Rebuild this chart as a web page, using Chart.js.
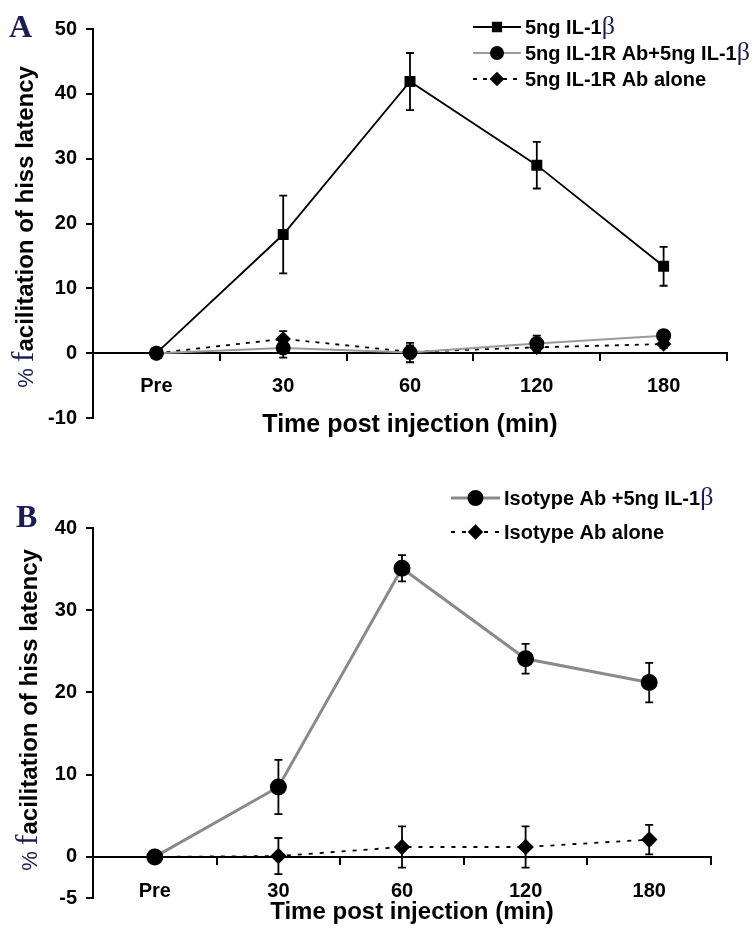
<!DOCTYPE html>
<html>
<head>
<meta charset="utf-8">
<script src="https://cdn.jsdelivr.net/npm/chart.js@4.4.0/dist/chart.umd.min.js"></script>
<style>
  html, body { margin: 0; padding: 0; background: #fff; }
  #chartA { position: absolute; left: 0; top: 0; }
  #chartB { position: absolute; left: 0; top: 466px; }
</style>
</head>
<body>
<canvas id="chartA" width="756" height="450"></canvas>
<canvas id="chartB" width="756" height="467"></canvas>
<script>
// ── Data ────────────────────────────────────────────────────────────────
const timeLabels = ['Pre', '30', '60', '120', '180'];

// Panel A
const il1b        = [0, 18.3, 41.9, 29.0, 13.4];
const il1bErr     = [0, 6.0, 4.4, 3.6, 3.0];
const abIl1b      = [0, 0.8, 0.1, 1.5, 2.7];
const abIl1bErr   = [0, 1.5, 1.5, 1.2, 0.8];
const abAlone     = [0, 2.2, 0.2, 0.9, 1.4];
const abAloneErr  = [0, 1.2, 1.0, 0.9, 0.6];
const ticksA      = [-10, 0, 10, 20, 30, 40, 50];

// Panel B
const isoIl1b     = [0, 8.5, 35.1, 24.1, 21.2];
const isoIl1bErr  = [0, 3.3, 1.6, 1.8, 2.4];
const isoAlone    = [0, 0.1, 1.2, 1.2, 2.1];
const isoAloneErr = [0, 2.2, 2.5, 2.5, 1.8];
const ticksB      = [-5, 0, 10, 20, 30, 40];

const SANS  = '"Liberation Sans", Arial, sans-serif';
const SERIF = '"Liberation Serif", "Times New Roman", serif';
const NAVY  = '#1c1c55';
const GREY_A = '#9a9a9a';
const GREY_B = '#8a8a8a';

// error bars drawn from each dataset's `errors` array
const errorBars = {
  id: 'errorBars',
  beforeDatasetsDraw(chart) {
    const { ctx, scales: { x, y } } = chart;
    ctx.save();
    ctx.strokeStyle = '#000';
    ctx.lineWidth = 1.8;
    chart.data.datasets.forEach(ds => {
      if (!ds.errors) return;
      ds.data.forEach((v, j) => {
        const e = ds.errors[j];
        if (!e) return;
        const px = x.getPixelForValue(j);
        const top = y.getPixelForValue(v + e);
        const bot = y.getPixelForValue(v - e);
        ctx.beginPath();
        ctx.moveTo(px, top); ctx.lineTo(px, bot);
        ctx.moveTo(px - 4, top); ctx.lineTo(px + 4, top);
        ctx.moveTo(px - 4, bot); ctx.lineTo(px + 4, bot);
        ctx.stroke();
      });
    });
    ctx.restore();
  }
};

function drawRich(ctx, parts, x, y) {
  let cx = x;
  parts.forEach(p => {
    ctx.font = p.font;
    ctx.fillStyle = p.color;
    ctx.fillText(p.t, cx, y);
    cx += ctx.measureText(p.t).width;
  });
  return cx - x;
}
function richWidth(ctx, parts) {
  return parts.reduce((w, p) => { ctx.font = p.font; return w + ctx.measureText(p.t).width; }, 0);
}

const bold  = s => `bold ${s}px ${SANS}`;
const beta  = { t: 'β', font: `26px ${SERIF}`, color: NAVY };

const yTitleParts = [
  { t: '% ', font: `22px ${SANS}`, color: NAVY },
  { t: 'f', font: `32px ${SERIF}`, color: NAVY },
  { t: 'acilitation of hiss latency', font: bold(24), color: '#000' },
];

// panel letter, axis titles and legend
const decor = {
  id: 'decor',
  afterDraw(chart, args, o) {
    const ctx = chart.ctx;
    ctx.save();
    ctx.textBaseline = 'alphabetic';
    ctx.textAlign = 'left';

    ctx.font = `bold 32px ${SERIF}`;
    ctx.fillStyle = NAVY;
    ctx.fillText(o.letter, o.letterX, o.letterY);

    ctx.font = bold(o.xTitleSize);
    ctx.fillStyle = '#000';
    ctx.textAlign = 'center';
    ctx.textBaseline = 'middle';
    ctx.fillText('Time post injection (min)', o.xTitleX, o.xTitleY);

    // rotated y title
    ctx.textAlign = 'left';
    ctx.textBaseline = 'alphabetic';
    ctx.save();
    ctx.translate(o.yTitleX, o.yTitleY);
    ctx.rotate(-Math.PI / 2);
    const w = richWidth(ctx, yTitleParts);
    drawRich(ctx, yTitleParts, -w / 2, 0);
    ctx.restore();

    // legend
    o.legend.forEach((item, i) => {
      const ds = chart.data.datasets[item.ds];
      const ly = o.legendY + i * o.legendDy;
      ctx.save();
      ctx.strokeStyle = ds.borderColor;
      ctx.lineWidth = ds.borderWidth;
      ctx.setLineDash(ds.borderDash || []);
      ctx.beginPath();
      ctx.moveTo(o.legendX, ly);
      ctx.lineTo(o.legendX + o.sampleW, ly);
      ctx.stroke();
      ctx.setLineDash([]);
      ctx.fillStyle = '#000';
      ctx.strokeStyle = '#000';
      Chart.helpers.drawPoint(ctx, {
        pointStyle: ds.pointStyle, radius: ds.pointRadius - 0.5, borderWidth: 1, rotation: 0
      }, o.legendX + o.sampleW / 2, ly);
      ctx.restore();
      drawRich(ctx, item.parts, o.legendX + o.sampleW + 4, ly + 7);
    });
    ctx.restore();
  }
};

function axisCommon(padding) {
  return {
    grid: { drawOnChartArea: false, drawTicks: true, tickLength: 7, color: '#000', lineWidth: 2 },
    border: { color: '#000', width: 2 },
    ticks: { font: { family: SANS, size: 20, weight: 'bold' }, color: '#000', padding },
  };
}

function makeChart(id, datasets, yMin, yMax, yTicks, padding, xPad, decorOpts) {
  const xc = axisCommon(xPad);
  const yc = axisCommon(9);
  return new Chart(document.getElementById(id), {
    type: 'line',
    data: { labels: timeLabels, datasets },
    options: {
      responsive: false,
      animation: false,
      devicePixelRatio: 1,
      layout: { padding },
      scales: {
        x: {
          type: 'category',
          offset: true,
          position: { y: 0 },
          grid: { ...xc.grid, offset: true },
          border: xc.border,
          ticks: xc.ticks,
        },
        y: {
          min: yMin, max: yMax,
          grid: yc.grid, border: yc.border, ticks: yc.ticks,
          afterBuildTicks: s => { s.ticks = yTicks.map(v => ({ value: v })); },
          afterFit: s => { s.width = 93; },
        },
      },
      plugins: {
        legend: { display: false },
        tooltip: { enabled: false },
        decor: decorOpts,
      },
    },
    plugins: [errorBars, decor],
  });
}

// ── Panel A ─────────────────────────────────────────────────────────────
makeChart('chartA', [
  {
    label: '5ng IL-1β', data: il1b, errors: il1bErr,
    borderColor: '#000', borderWidth: 1.8, pointStyle: 'rect', pointRadius: 6.5,
    pointBackgroundColor: '#000', pointBorderColor: '#000',
  },
  {
    label: '5ng IL-1R Ab+5ng IL-1β', data: abIl1b, errors: abIl1bErr,
    borderColor: GREY_A, borderWidth: 2, pointStyle: 'circle', pointRadius: 6.5,
    pointBackgroundColor: '#000', pointBorderColor: '#000',
  },
  {
    label: '5ng IL-1R Ab alone', data: abAlone, errors: abAloneErr,
    borderColor: '#000', borderWidth: 1.8, borderDash: [4, 6], pointStyle: 'rectRot', pointRadius: 6.5,
    pointBackgroundColor: '#000', pointBorderColor: '#000',
  },
], -10, 50, ticksA, { top: 29, bottom: 32, left: 0, right: 29 }, 14, {
  letter: 'A', letterX: 9, letterY: 37,
  xTitleSize: 25, xTitleX: 410, xTitleY: 425,
  yTitleX: 33, yTitleY: 227,
  legendX: 473, legendY: 27, legendDy: 26, sampleW: 48,
  legend: [
    { ds: 0, parts: [{ t: '5ng IL-1', font: bold(20), color: '#000' }, beta] },
    { ds: 1, parts: [{ t: '5ng IL-1R Ab+5ng IL-1', font: bold(20), color: '#000' }, beta] },
    { ds: 2, parts: [{ t: '5ng IL-1R Ab alone', font: bold(20), color: '#000' }] },
  ],
});

// ── Panel B ─────────────────────────────────────────────────────────────
makeChart('chartB', [
  {
    label: 'Isotype Ab +5ng IL-1β', data: isoIl1b, errors: isoIl1bErr,
    borderColor: GREY_B, borderWidth: 3, pointStyle: 'circle', pointRadius: 7,
    pointBackgroundColor: '#000', pointBorderColor: '#000',
  },
  {
    label: 'Isotype Ab alone', data: isoAlone, errors: isoAloneErr,
    borderColor: '#000', borderWidth: 1.8, borderDash: [4, 7], pointStyle: 'rectRot', pointRadius: 7,
    pointBackgroundColor: '#000', pointBorderColor: '#000',
  },
], -5, 40, ticksB, { top: 62, bottom: 35, left: 0, right: 45 }, 16, {
  letter: 'B', letterX: 16, letterY: 61,
  xTitleSize: 24, xTitleX: 412, xTitleY: 446,
  yTitleX: 37, yTitleY: 244,
  legendX: 451, legendY: 32, legendDy: 34, sampleW: 49,
  legend: [
    { ds: 0, parts: [{ t: 'Isotype Ab +5ng IL-1', font: bold(20), color: '#000' }, beta] },
    { ds: 1, parts: [{ t: 'Isotype Ab alone', font: bold(20), color: '#000' }] },
  ],
});
</script>
</body>
</html>
